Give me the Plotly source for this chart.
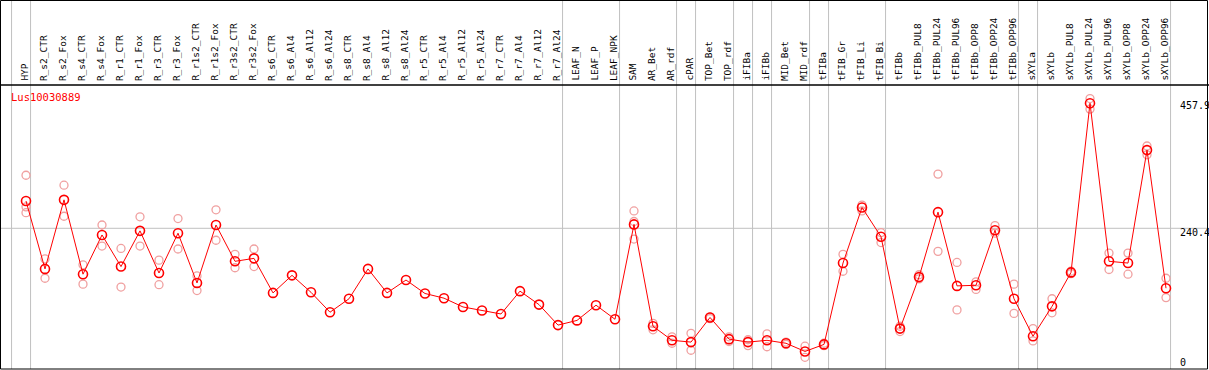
import plotly.graph_objects as go

categories = ["HYP", "R_s2_CTR", "R_s2_Fox", "R_s4_CTR", "R_s4_Fox", "R_r1_CTR", "R_r1_Fox",
              "R_r3_CTR", "R_r3_Fox", "R_r1s2_CTR", "R_r1s2_Fox", "R_r3s2_CTR", "R_r3s2_Fox",
              "R_s6_CTR", "R_s6_Al4", "R_s6_Al12", "R_s6_Al24", "R_s8_CTR", "R_s8_Al4", "R_s8_Al12",
              "R_s8_Al24", "R_r5_CTR", "R_r5_Al4", "R_r5_Al12", "R_r5_Al24", "R_r7_CTR", "R_r7_Al4",
              "R_r7_Al12", "R_r7_Al24", "LEAF_N", "LEAF_P", "LEAF_NPK", "SAM", "AR_Bet", "AR_rdf",
              "cPAR", "TOP_Bet", "TOP_rdf", "iFIBa", "iFIBb", "MID_Bet", "MID_rdf", "tFIBa",
              "tFIB_Gr", "tFIB_Li", "tFIB_Bi", "tFIBb", "tFIBb_PUL8", "tFIBb_PUL24", "tFIBb_PUL96",
              "tFIBb_OPP8", "tFIBb_OPP24", "tFIBb_OPP96", "sXYLa", "sXYLb", "sXYLb_PUL8",
              "sXYLb_PUL24", "sXYLb_PUL96", "sXYLb_OPP8", "sXYLb_OPP24", "sXYLb_OPP96"]

means = [287, 171, 289, 162, 229, 175, 236, 164, 232, 147, 246, 184, 189,
         130, 160, 131, 97, 120, 171, 130, 152, 129, 121, 106, 100, 94, 133, 110, 75,
         83, 109, 85, 247, 73, 49, 46, 88, 51, 46, 49, 44, 30, 42, 181, 276, 226,
         69, 157, 268, 142, 143, 237, 120, 56, 107, 165, 454, 184, 181, 374, 138]

N = None
rep1 = [331, 188, 314, 178, 246, 206, 260, 186, 257, 159, 272, 196, 205,
        N, N, N, N, N, N, N, N, N, N, N, N, N, N, N, N,
        N, N, N, 270, 78, 55, 61, 89, 55, 50, 60, 46, 39, 44, 196, 280, 233,
        73, 161, 333, 182, 149, 245, 145, 69, 120, 167, 462, 198, 198, 381, 155]
rep2 = [267, 155, 261, 145, 210, 140, 210, 144, 205, 134, 220, 173, 175,
        N, N, N, N, N, N, N, N, N, N, N, N, N, N, N, N,
        N, N, N, 222, 67, 44, 32, 86, 47, 40, 38, 42, 20, 40, 167, 270, 216,
        64, 154, 201, 101, 136, 232, 95, 48, 96, 163, 444, 170, 162, 366, 122]
rep3 = [277] + [N] * 31 + [252] + [N] * 28

separators_after = [-1, 0, 28, 31, 34, 35, 37, 38, 39, 41, 42, 45, 52, 53, 60]
y_ticks = [0, 240.4, 457.9]
y_tick_text = ["0", "240.4", "457.9"]
title = "Lus10030889"

W, H = 1209, 370
xs = list(range(len(categories)))
mono = "DejaVu Sans Mono"

fig = go.Figure()
for reps in (rep1, rep2, rep3):
    fig.add_trace(go.Scatter(x=xs, y=reps, mode="markers",
                             marker=dict(symbol="circle-open", size=8, color="#f0a0a0",
                                         line=dict(width=1.3, color="#f0a0a0")),
                             hoverinfo="skip", showlegend=False))
fig.add_trace(go.Scatter(x=xs, y=means, mode="lines+markers",
                         line=dict(color="red", width=1),
                         marker=dict(symbol="circle-open", size=9, color="red",
                                     line=dict(width=1.6, color="red")),
                         showlegend=False))

dom_bot = 1 / H
dom_top = (H - 85) / H
x_min = -26 / 19
x_max = (W - 26) / 19

shapes = []
shapes.append(dict(type="line", xref="paper", yref="y", x0=0, x1=1, y0=y_ticks[1], y1=y_ticks[1],
                   line=dict(color="#c0c0c0", width=1), layer="below"))
for s in separators_after:
    xv = s + 0.24
    shapes.append(dict(type="line", xref="x", yref="paper", x0=xv, x1=xv, y0=dom_bot, y1=1,
                       line=dict(color="#c0c0c0", width=1), layer="below"))
shapes.append(dict(type="rect", xref="paper", yref="paper", x0=0.5 / W, x1=(W - 1.5) / W,
                   y0=dom_bot, y1=1 - 0.5 / H, line=dict(color="black", width=1)))
shapes.append(dict(type="line", xref="paper", yref="paper", x0=0, x1=1, y0=dom_top, y1=dom_top,
                   line=dict(color="black", width=1.5)))

annotations = []
for i, c in enumerate(categories):
    annotations.append(dict(x=i - 0.1, y=dom_top, xref="x", yref="paper", text=c, textangle=-90,
                            showarrow=False, xanchor="center", yanchor="bottom", yshift=2,
                            font=dict(family=mono, size=9.5, color="black")))
shifts = [7, -4, -5]
for v, t, sh in zip(y_ticks, y_tick_text, shifts):
    annotations.append(dict(x=1178 / W, y=v, xref="paper", yref="y", text=t, showarrow=False,
                            xanchor="left", yanchor="middle", yshift=sh,
                            font=dict(family=mono, size=10, color="black")))
annotations.append(dict(x=9 / W, y=485.2 - 12 / 0.5853, xref="paper", yref="y", text=title,
                        showarrow=False, xanchor="left", yanchor="middle",
                        font=dict(family=mono, size=10.5, color="red")))

fig.update_layout(
    width=W, height=H, margin=dict(l=0, r=0, t=0, b=0),
    paper_bgcolor="white", plot_bgcolor="white",
    xaxis=dict(range=[x_min, x_max], showgrid=False, zeroline=False, showticklabels=False,
               showline=False, fixedrange=True),
    yaxis=dict(range=[0, 485.2], domain=[dom_bot, dom_top], showgrid=False, zeroline=False,
               showticklabels=False, showline=False, fixedrange=True),
    shapes=shapes, annotations=annotations,
)
fig.write_html("out.html", config={"displayModeBar": False},
               post_script="document.body.style.margin='0';document.body.style.overflow='hidden';")
